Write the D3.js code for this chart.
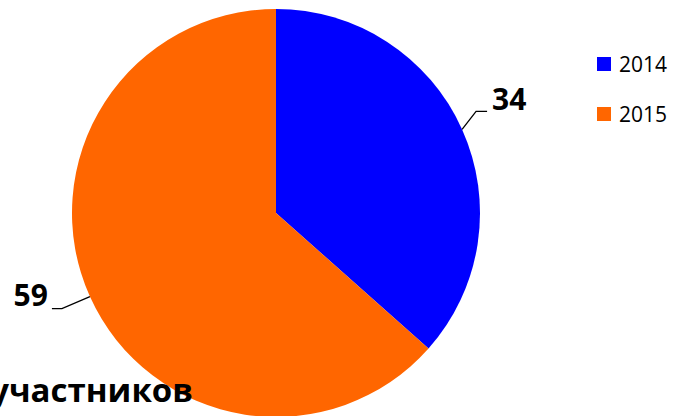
<!DOCTYPE html>
<html><head><meta charset="utf-8">
<script src="https://cdn.jsdelivr.net/npm/d3@7"></script>
<style>body{margin:0;background:#fff;overflow:hidden}</style>
</head><body>
<svg id="c" width="677" height="416"></svg>
<script>
const categories = ["2014", "2015"];
const values = [34, 59];
const colors = ["#0000FF", "#FF6600"];
const title = "Количество участников";

const svg = d3.select("#c");
const cx = 276, cy = 213, r = 204;
const g = svg.append("g").attr("transform", `translate(${cx},${cy})`);
const pie = d3.pie().sort(null).value(d => d)(values);
const arc = d3.arc().innerRadius(0).outerRadius(r);
const edge = d3.arc().innerRadius(r).outerRadius(r);

g.selectAll("path.slice").data(pie).join("path")
  .attr("d", arc).attr("fill", (d, i) => colors[i]);

// leader lines and labels
const offs = [{e:[14,-18], h:11, anchor:"start", tx:5, ty:-1},
              {e:[-28,12], h:-10, anchor:"end", tx:-4, ty:-3}];
pie.forEach((d, i) => {
  const p = edge.centroid(d);
  const o = offs[i];
  const e = [p[0] + o.e[0], p[1] + o.e[1]];
  const h = [e[0] + o.h, e[1]];
  g.append("polyline").attr("points", [p, e, h].map(q => q.join(",")).join(" "))
    .attr("fill", "none").attr("stroke", "#000").attr("stroke-width", 1.3);
  g.append("text").attr("x", h[0] + o.tx).attr("y", h[1] + o.ty)
    .attr("text-anchor", o.anchor)
    .attr("font-family", "Open Sans, sans-serif").attr("font-weight", "bold")
    .attr("font-size", 30).attr("fill", "#000").text(values[i]);
});

// title (partially off-canvas)
svg.append("text").attr("x", 193).attr("y", 402).attr("text-anchor", "end")
  .attr("font-family", "Open Sans, sans-serif").attr("font-weight", "bold")
  .attr("font-size", 33).attr("fill", "#000").text(title);

// legend
const lg = svg.append("g").attr("transform", "translate(597,57)");
categories.forEach((c, i) => {
  const row = lg.append("g").attr("transform", `translate(0,${i * 50})`);
  row.append("rect").attr("width", 14).attr("height", 14).attr("fill", colors[i]);
  row.append("text").attr("x", 22).attr("y", 15)
    .attr("font-family", "Open Sans, sans-serif").attr("font-size", 21)
    .attr("fill", "#000").text(c);
});
</script>
</body></html>
